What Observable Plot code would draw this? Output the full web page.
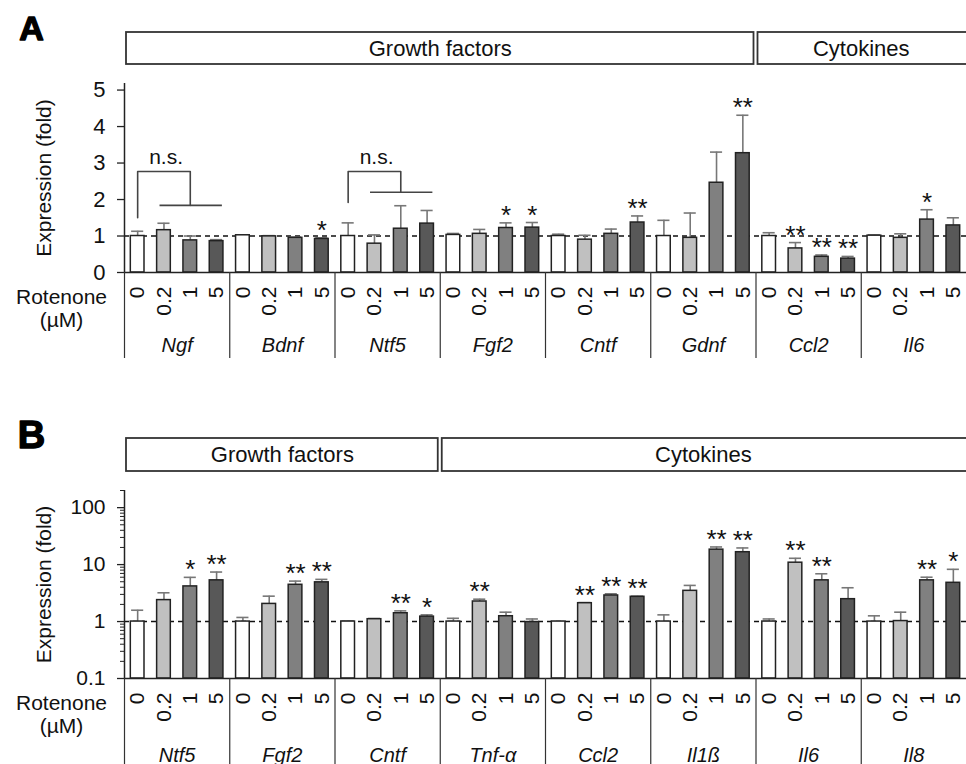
<!DOCTYPE html>
<html><head><meta charset="utf-8">
<script src="https://cdn.jsdelivr.net/npm/d3@7"></script>
<script src="https://cdn.jsdelivr.net/npm/@observablehq/plot@0.6"></script>
<style>
body{margin:0;background:#fff;}
#fig{width:966px;height:764px;overflow:hidden;position:relative;}
#fig svg{display:block;}
</style></head><body><div id="fig"></div>
<script>
// ---- data ----
const concs = ["0", "0.2", "1", "5"];
const concColors = ["#ffffff", "#c0c0c0", "#808080", "#585858"];

// Panel A
const genesA = ["Ngf", "Bdnf", "Ntf5", "Fgf2", "Cntf", "Gdnf", "Ccl2", "Il6"];
const meanA = [
  1.00, 1.16, 0.88, 0.86,
  1.02, 0.99, 0.95, 0.92,
  1.00, 0.79, 1.20, 1.34,
  1.03, 1.06, 1.22, 1.23,
  1.00, 0.90, 1.06, 1.37,
  1.00, 0.95, 2.46, 3.27,
  1.00, 0.66, 0.43, 0.38,
  1.01, 0.95, 1.45, 1.29
];
const errA = [
  0.13, 0.19, 0.12, 0.04,
  0.01, 0.02, 0.02, 0.03,
  0.36, 0.24, 0.63, 0.36,
  0.04, 0.12, 0.14, 0.14,
  0.05, 0.12, 0.13, 0.18,
  0.43, 0.68, 0.84, 1.04,
  0.09, 0.16, 0.05, 0.06,
  0.02, 0.11, 0.27, 0.21
];
const sigA = [
  "", "", "", "",
  "", "", "", "*",
  "", "", "", "",
  "", "", "*", "*",
  "", "", "", "**",
  "", "", "", "**",
  "", "**", "**", "**",
  "", "", "*", ""
];
const headLabelsA = ["Growth factors", "Cytokines"];
const headSpansA = [[0, 6], [6, 8]];
// n.s. brackets: group, bracket start value, bracket top, drop level
const nsGroupA = [0, 2];
const nsStartA = [1.5, 1.92];
const nsTopA = [2.77, 2.77];
const nsDropA = [1.84, 2.2];

// Panel B
const genesB = ["Ntf5", "Fgf2", "Cntf", "Tnf-α", "Ccl2", "Il1ß", "Il6", "Il8"];
const meanB = [
  1.00, 2.38, 4.14, 5.29,
  1.00, 2.04, 4.42, 4.88,
  1.00, 1.10, 1.40, 1.22,
  1.00, 2.25, 1.24, 0.98,
  1.00, 2.10, 2.87, 2.72,
  1.00, 3.46, 18.3, 16.5,
  1.00, 10.8, 5.29, 2.47,
  1.00, 1.02, 5.29, 4.79
];
const errB = [
  0.58, 0.82, 1.83, 2.11,
  0.18, 0.75, 0.71, 0.62,
  0.02, 0.03, 0.14, 0.09,
  0.14, 0.22, 0.22, 0.13,
  0.00, 0.05, 0.20, 0.06,
  0.31, 0.85, 2.10, 3.10,
  0.11, 2.10, 1.61, 1.45,
  0.26, 0.44, 0.71, 3.47
];
const sigB = [
  "", "", "*", "**",
  "", "", "**", "**",
  "", "", "**", "*",
  "", "**", "", "",
  "", "**", "**", "**",
  "", "", "**", "**",
  "", "**", "**", "",
  "", "", "**", "*"
];
const headLabelsB = ["Growth factors", "Cytokines"];
const headSpansB = [[0, 3], [3, 8]];

// ---- drawing ----
const W = 966, ML = 124, NG = 8, N = NG * 4;
const FONT = "'Liberation Sans', Arial, Helvetica, sans-serif";
const xDom = [-0.5, N - 0.5];
const fig = document.getElementById("fig");

function header(labels, spans, letter, o) {
  const boxes = spans.map(([a, b], k) => ({
    x1: a * 4 - 0.5,
    x2: b * 4 - 0.5 + (b === NG ? 1 : 0),
    cx: (a * 4 - 0.5 + b * 4 - 0.5) / 2,
    label: labels[k]
  }));
  return Plot.plot({
    width: W, height: o.height, marginLeft: ML, marginRight: 0,
    marginTop: o.top, marginBottom: o.bottom,
    style: {fontFamily: FONT, color: "#111", background: "#fff", overflow: "hidden"},
    x: {domain: xDom, axis: null},
    y: {domain: [0, 1], axis: null},
    marks: [
      Plot.rect(boxes, {x1: "x1", x2: "x2", y1: 0, y2: 1, fill: "none", stroke: "#333", strokeWidth: 1.8, insetLeft: 2, insetRight: 2}),
      Plot.text(boxes, {x: "cx", y: 0.5, text: "label", fontSize: 22}),
      Plot.text([letter], {frameAnchor: "top-left", textAnchor: "middle", lineAnchor: "top", dx: -93, dy: -17, fontSize: o.letterSize, fontWeight: 900, stroke: "#000", strokeWidth: 1.4, fill: "#000"})
    ]
  });
}

function panel(mean, err, sig, genes, o) {
  const rows = mean.map((m, i) => ({i, mean: m, top: m + err[i], conc: concs[i % 4], sig: sig[i]}));
  const base = o.yDomain[0];
  const marks = [
    Plot.ruleY([1], {stroke: "#111", strokeWidth: 1.5, strokeDasharray: "5,4"}),
    Plot.ruleX(rows, {x: "i", y1: "mean", y2: "top", stroke: "#777", strokeWidth: 1.6}),
    Plot.ruleY(rows, {y: "top", x1: d => d.i - 0.23, x2: d => d.i + 0.23, stroke: "#777", strokeWidth: 1.6}),
    Plot.rect(rows, {x1: d => d.i - 0.26, x2: d => d.i + 0.26, y1: base, y2: "mean", fill: "conc", stroke: "#222", strokeWidth: 1.5}),
    Plot.text(rows.filter(d => d.sig), {x: "i", y: "top", text: "sig", lineAnchor: "bottom", dy: 1, fontSize: 26}),
    Plot.ruleY([base], {stroke: "#222", strokeWidth: 1.5}),
    Plot.ruleX([xDom[0]], {stroke: "#222", strokeWidth: 1.5}),
    Plot.axisY({ticks: o.ticks, tickSize: 7, tickPadding: 12, tickFormat: d => String(d), fontSize: o.tickFont, stroke: "#222", strokeWidth: 1.3, label: null}),
    Plot.axisX({ticks: d3.range(N), tickSize: 0, tickPadding: 14, tickRotate: -90, tickFormat: i => concs[i % 4], fontSize: 21, label: null}),
    Plot.axisX({ticks: d3.range(NG).map(g => g * 4 - 0.5), tickSize: 86, tickFormat: () => "", stroke: "#333", strokeWidth: 1.2, label: null}),
    Plot.text(genes, {x: (d, j) => j * 4 + 1.5, frameAnchor: "bottom", dy: o.geneDy, lineAnchor: "bottom", fontStyle: "italic", fontSize: 20}),
    Plot.text(["Rotenone\n(µM)"], {frameAnchor: "bottom-left", dx: -63, dy: 15, lineAnchor: "top", lineHeight: 1.1, textAnchor: "middle", fontSize: 21}),
    Plot.text(["Expression (fold)"], {frameAnchor: "left", textAnchor: "middle", rotate: -90, dx: -80, fontSize: 21})
  ];
  if (o.minor) marks.push(Plot.axisY({ticks: o.minor, tickSize: 4, tickFormat: () => "", stroke: "#222", strokeWidth: 1, label: null}));
  if (o.ns) {
    const pts = [], hs = [], ts = [];
    o.ns.group.forEach((g, k) => {
      const x0 = g * 4;
      pts.push({k, x: x0, y: o.ns.start[k]}, {k, x: x0, y: o.ns.top[k]}, {k, x: x0 + 2, y: o.ns.top[k]}, {k, x: x0 + 2, y: o.ns.drop[k]});
      hs.push({x1: x0 + 0.85, x2: x0 + 3.22, y: o.ns.drop[k]});
      ts.push({x: x0 + 1.08, y: o.ns.top[k]});
    });
    marks.push(
      Plot.line(pts, {x: "x", y: "y", z: "k", stroke: "#444", strokeWidth: 1.6, curve: "linear"}),
      Plot.ruleY(hs, {x1: "x1", x2: "x2", y: "y", stroke: "#444", strokeWidth: 1.6}),
      Plot.text(ts, {x: "x", y: "y", text: () => "n.s.", lineAnchor: "bottom", dy: -7, fontSize: 21})
    );
  }
  return Plot.plot({
    width: W, height: o.height, marginLeft: ML, marginRight: 0,
    marginTop: o.top, marginBottom: o.bottom,
    style: {fontFamily: FONT, color: "#111", background: "#fff", overflow: "hidden"},
    x: {domain: xDom},
    y: {type: o.yType, domain: o.yDomain},
    color: {domain: concs, range: concColors},
    marks
  });
}

fig.append(header(headLabelsA, headSpansA, "A", {height: 72, top: 32, bottom: 8, letterSize: 34}));
fig.append(panel(meanA, errA, sigA, genesA, {
  height: 328, top: 11, bottom: 128, yType: "linear", yDomain: [0, 5.18],
  ticks: [0, 1, 2, 3, 4, 5], tickFont: 22, geneDy: 79,
  ns: {group: nsGroupA, start: nsStartA, top: nsTopA, drop: nsDropA}
}));
fig.append(header(headLabelsB, headSpansB, "B", {height: 75, top: 38, bottom: 4, letterSize: 38}));
const minorB = [];
[0.1, 1, 10, 100].forEach(d => d3.range(2, 10).forEach(k => { const v = +(d * k).toPrecision(3); if (v <= 200) minorB.push(v); }));
fig.append(panel(meanB, errB, sigB, genesB, {
  height: 289, top: 15, bottom: 86, yType: "log", yDomain: [0.1, 200],
  ticks: [0.1, 1, 10, 100], tickFont: 21, minor: minorB, geneDy: 83
}));
</script>
</body></html>
